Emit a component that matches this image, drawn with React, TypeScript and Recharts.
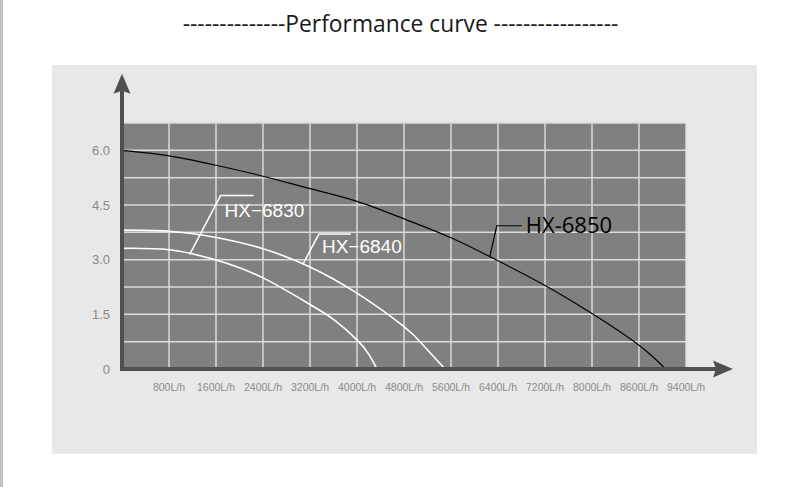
import { CartesianGrid, Line, LineChart, ReferenceDot, ReferenceLine, XAxis, YAxis } from "recharts";

const chartTitle = "--------------Performance curve -----------------";

const flowTicks = [800, 1600, 2400, 3200, 4000, 4800, 5600, 6400, 7200, 8000, 8800, 9600];
const flowTickLabels = [
  "800L/h", "1600L/h", "2400L/h", "3200L/h", "4000L/h", "4800L/h",
  "5600L/h", "6400L/h", "7200L/h", "8000L/h", "8600L/h", "9400L/h",
];
const headTicks = [0, 0.75, 1.5, 2.25, 3, 3.75, 4.5, 5.25, 6];
const headTickLabels = ["0", "", "1.5", "", "3.0", "", "4.5", "", "6.0"];

// HX-6830 (inner white curve)
const hx6830Flow = [0, 800, 1600, 2400, 3200, 3600, 4000, 4210, 4340];
const hx6830Head = [3.31, 3.27, 2.99, 2.5, 1.77, 1.36, 0.8, 0.38, 0];
// HX-6840 (outer white curve)
const hx6840Flow = [0, 800, 1600, 2400, 3200, 4000, 4800, 5140, 5500];
const hx6840Head = [3.81, 3.78, 3.61, 3.3, 2.8, 2.08, 1.16, 0.63, 0];
// HX-6850 (black curve)
const hx6850Flow = [0, 800, 1600, 2400, 3200, 4000, 4800, 5600, 6400, 7200, 8000, 8800, 9250];
const hx6850Head = [6.0, 5.85, 5.59, 5.29, 4.95, 4.6, 4.12, 3.6, 2.97, 2.29, 1.52, 0.65, 0];

// callout anchors, sitting on each curve
const calloutNames = ["HX\u22126830", "HX\u22126840", "HX-6850"];
const calloutFlow = [1150, 3080, 6260];
const calloutHead = [3.14, 2.88, 3.08];

const toPoints = (flow: number[], head: number[]) => flow.map((f, i) => ({ flow: f, head: head[i] }));
const hx6830 = toPoints(hx6830Flow, hx6830Head);
const hx6840 = toPoints(hx6840Flow, hx6840Head);
const hx6850 = toPoints(hx6850Flow, hx6850Head);

const AXIS_COLOR = "#505050";
const X_ARROW_END = 10400;
const Y_ARROW_END = 8.1;

const calloutStyles = [
  { color: "#ffffff", font: "'Liberation Sans', Arial, sans-serif", size: 19, lw: 1.5, elbow: [31, -59], tail: 64, text: [35, -38] },
  { color: "#ffffff", font: "'Liberation Sans', Arial, sans-serif", size: 19, lw: 1.5, elbow: [16, -30], tail: 48, text: [19, -11] },
  { color: "#000000", font: "'Open Sans', sans-serif", size: 22, lw: 1.2, elbow: [7, -31], tail: 32, text: [36, -24] },
];

function AxisArrow(props: any) {
  const { x1, y1, x2, y2 } = props;
  const dx = x2 - x1;
  const dy = y2 - y1;
  const len = Math.hypot(dx, dy);
  const ux = dx / len;
  const uy = dy / len;
  const head = 20;
  const half = 8.5;
  const bx = x2 - ux * head;
  const by = y2 - uy * head;
  const nx = -uy;
  const ny = ux;
  return (
    <g>
      <line x1={x1 - ux * 2} y1={y1 - uy * 2} x2={bx + ux * 3} y2={by + uy * 3} stroke={AXIS_COLOR} strokeWidth={4} />
      <polygon
        points={`${x2},${y2} ${bx + nx * half},${by + ny * half} ${bx + ux * 3},${by + uy * 3} ${bx - nx * half},${by - ny * half}`}
        fill={AXIS_COLOR}
      />
    </g>
  );
}

function makeCallout(i: number) {
  const s = calloutStyles[i];
  return (props: any) => {
    const { cx, cy } = props;
    const ex = cx + s.elbow[0];
    const ey = cy + s.elbow[1];
    return (
      <g>
        <polyline points={`${cx},${cy} ${ex},${ey} ${cx + s.tail},${ey}`} fill="none" stroke={s.color} strokeWidth={s.lw} />
        <text x={cx + s.text[0]} y={cy + s.text[1]} fill={s.color} fontSize={s.size} fontFamily={s.font}>
          {calloutNames[i]}
        </text>
      </g>
    );
  };
}

export default function App() {
  return (
    <div style={{ position: "absolute", left: 0, top: 0, width: 800, height: 487, background: "#ffffff", overflow: "hidden" }}>
      <div style={{ position: "absolute", left: 0, top: 0, width: 3, height: 487, background: "#c2c2c2" }} />
      <div style={{ position: "absolute", left: 52, top: 65, width: 705, height: 389, background: "#e8e8e8" }} />
      <div
        style={{
          position: "absolute",
          left: 0,
          top: 13,
          width: 801,
          textAlign: "center",
          fontFamily: "'Open Sans', sans-serif",
          fontSize: 22.8,
          lineHeight: "22.8px",
          color: "#1a1a1a",
          whiteSpace: "pre",
        }}
      >
        {chartTitle}
      </div>
      <div style={{ position: "absolute", left: 0, top: 0 }}>
        <LineChart width={800} height={487} margin={{ top: 123, right: 114, bottom: 117, left: 121 }}>
          <CartesianGrid fill="#808080" fillOpacity={1} stroke="#dadada" strokeWidth={1.5} />
          <XAxis
            type="number"
            dataKey="flow"
            domain={[0, 9600]}
            ticks={flowTicks}
            tickFormatter={(v: number) => flowTickLabels[flowTicks.indexOf(v)] ?? ""}
            allowDataOverflow
            axisLine={false}
            tickLine={false}
            tickSize={0}
            tickMargin={15}
            height={1}
            interval={0}
            tick={{ fill: "#8a8a8a", fontSize: 10.5, fontFamily: "'Liberation Sans', Arial, sans-serif" }}
          />
          <YAxis
            type="number"
            dataKey="head"
            domain={[0, 6.75]}
            ticks={headTicks}
            tickFormatter={(v: number) => headTickLabels[headTicks.indexOf(v)] ?? ""}
            allowDataOverflow
            axisLine={false}
            tickLine={false}
            tickSize={0}
            tickMargin={12}
            width={1}
            interval={0}
            tick={{ fill: "#8a8a8a", fontSize: 13, fontFamily: "'Liberation Sans', Arial, sans-serif" }}
          />
          <Line data={hx6830} dataKey="head" type="natural" stroke="#ffffff" strokeWidth={1.6} dot={false} isAnimationActive={false} />
          <Line data={hx6840} dataKey="head" type="natural" stroke="#ffffff" strokeWidth={1.6} dot={false} isAnimationActive={false} />
          <Line data={hx6850} dataKey="head" type="natural" stroke="#000000" strokeWidth={1.2} dot={false} isAnimationActive={false} />
          <ReferenceLine segment={[{ x: 0, y: 0 }, { x: 0, y: Y_ARROW_END }]} ifOverflow="visible" shape={AxisArrow} />
          <ReferenceLine segment={[{ x: 0, y: 0 }, { x: X_ARROW_END, y: 0 }]} ifOverflow="visible" shape={AxisArrow} />
          {calloutNames.map((name, i) => (
            <ReferenceDot key={name} x={calloutFlow[i]} y={calloutHead[i]} ifOverflow="visible" shape={makeCallout(i)} />
          ))}
        </LineChart>
      </div>
    </div>
  );
}
